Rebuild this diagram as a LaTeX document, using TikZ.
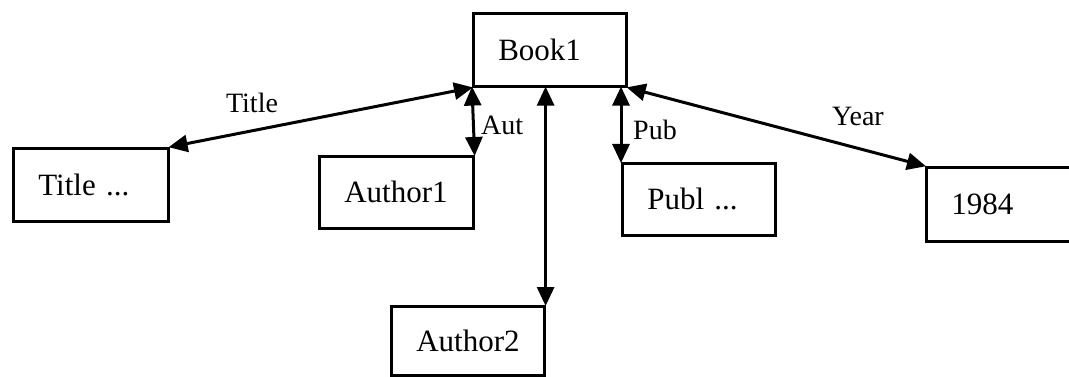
\documentclass[tikz,border=0pt]{standalone}
\usepackage{fontspec}
\setmainfont{Liberation Serif}
\usetikzlibrary{arrows.meta}
\begin{document}
\begin{tikzpicture}[x=1pt,y=-1pt,
  box/.style={draw, line width=2.6pt, anchor=north west, align=left,
    inner xsep=25pt, inner ysep=0pt, font=\fontsize{31}{36}\selectfont},
  link/.style={line width=3pt, {Triangle[length=19pt,width=17pt]}-{Triangle[length=19pt,width=17pt]}, shorten <=-1pt, shorten >=-1pt},
  lbl/.style={font=\fontsize{28}{32}\selectfont, inner sep=0pt}]
\useasboundingbox (0,0) rectangle (1069,377);
\clip (0,0) rectangle (1069,377);
% record boxes
\node[box, text width=103pt, minimum height=73pt] (book) at (472,12) {Book1};
\node[box, text width=105pt, minimum height=73pt] (title) at (12,147) {Title ...};
\node[box, text width=104pt, minimum height=72pt] (author1) at (318,155) {Author1};
\node[box, text width=103pt, minimum height=72pt] (publ) at (621,162) {Publ ...};
\node[box, text width=110pt, minimum height=74pt] (year) at (925,166) {1984};
\node[box, text width=103pt, minimum height=69pt] (author2) at (390,305) {Author2};
% links between the book and its fields
\draw[link] (book.south west) -- (title.north east);
\draw[link] (book.south west) -- (author1.north east);
\draw[link] (author2.north east |- book.south) -- (author2.north east);
\draw[link] (publ.north west |- book.south) -- (publ.north west);
\draw[link] (book.south east) -- (year.north west);
% link labels
\node[lbl] (ltitle) at (252,103) {Title};
\node[lbl, anchor=west] (laut) at (481,125) {Aut};
\node[lbl, anchor=west] (lpub) at (633,130) {Pub};
\node[lbl] (lyear) at (858,116) {Year};
\end{tikzpicture}
\end{document}
